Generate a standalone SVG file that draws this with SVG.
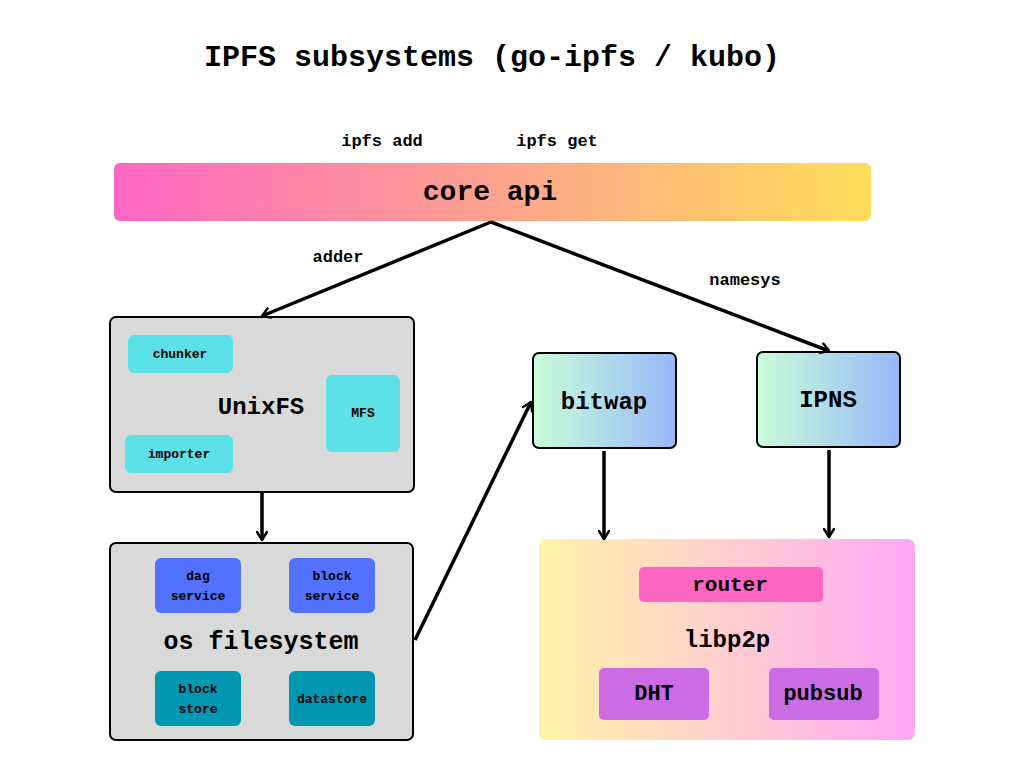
<svg xmlns="http://www.w3.org/2000/svg" width="1024" height="768" viewBox="0 0 1024 768">
<defs>
<linearGradient id="gCore" x1="0" y1="0" x2="1" y2="0"><stop offset="0" stop-color="#FF66C4"/><stop offset="1" stop-color="#FFDE59"/></linearGradient>
<linearGradient id="gBlue" x1="0" y1="0" x2="1" y2="0"><stop offset="0" stop-color="#C9FCD9"/><stop offset="1" stop-color="#97B9FA"/></linearGradient>
<linearGradient id="gLib" x1="0" y1="0" x2="1" y2="0"><stop offset="0" stop-color="#FFF4A8"/><stop offset="1" stop-color="#FFA8F7"/></linearGradient>
<marker id="arr" viewBox="0 0 12 12" refX="10" refY="6" markerWidth="12" markerHeight="12" markerUnits="userSpaceOnUse" orient="auto">
<path d="M2,1 L10,6 L2,11" fill="none" stroke="#000" stroke-width="2.4" stroke-linecap="round" stroke-linejoin="round"/>
</marker>
<style>
text{font-family:"Liberation Mono","DejaVu Sans Mono",monospace;font-weight:bold;fill:#000;text-anchor:middle;dominant-baseline:central}
.box{fill:#D9D9D9;stroke:#000;stroke-width:2}
.grad{fill:url(#gBlue);stroke:#000;stroke-width:2}
.cyan{fill:#5CE1E6}
.blue{fill:#5271FF}
.teal{fill:#0097B2}
.pink{fill:#FF66C4}
.purple{fill:#CB6CE6}
.s{font-size:13px}
.m{font-size:17px}
.l{font-size:24px}
.conn{fill:none;stroke:#000;stroke-width:3.5;marker-end:url(#arr)}
</style>
</defs>
<rect width="1024" height="768" fill="#fff"/>
<text x="492" y="58" style="font-size:30px">IPFS subsystems (go-ipfs / kubo)</text>
<text class="m" x="382" y="141">ipfs add</text>
<text class="m" x="557" y="141">ipfs get</text>
<g id="core-api">
<rect x="114" y="163" width="757" height="58" rx="6" fill="url(#gCore)"/>
<text x="490" y="192" style="font-size:28px">core api</text>
</g>
<g id="unixfs">
<rect class="box" x="110" y="317" width="304" height="175" rx="6"/>
<text class="l" x="261" y="407">UnixFS</text>
<rect class="cyan" x="128" y="335" width="105" height="38" rx="6"/>
<text class="s" x="180" y="354">chunker</text>
<rect class="cyan" x="125" y="435" width="108" height="38" rx="6"/>
<text class="s" x="179" y="454">importer</text>
<rect class="cyan" x="326" y="375" width="74" height="77" rx="6"/>
<text class="s" x="363" y="413">MFS</text>
</g>
<g id="os-filesystem">
<rect class="box" x="110" y="543" width="303" height="197" rx="6"/>
<text x="261" y="642" style="font-size:25px">os filesystem</text>
<rect class="blue" x="155" y="558" width="86" height="55" rx="6"/>
<text class="s" x="198" y="576">dag</text>
<text class="s" x="198" y="596">service</text>
<rect class="blue" x="289" y="558" width="86" height="55" rx="6"/>
<text class="s" x="332" y="576">block</text>
<text class="s" x="332" y="596">service</text>
<rect class="teal" x="155" y="671" width="86" height="55" rx="6"/>
<text class="s" x="198" y="689">block</text>
<text class="s" x="198" y="709">store</text>
<rect class="teal" x="289" y="671" width="86" height="55" rx="6"/>
<text class="s" x="332" y="699">datastore</text>
</g>
<g id="bitwap">
<rect class="grad" x="533" y="353" width="143" height="95" rx="6"/>
<text class="l" x="604" y="402">bitwap</text>
</g>
<g id="ipns">
<rect class="grad" x="757" y="352" width="143" height="95" rx="6"/>
<text class="l" x="828" y="400">IPNS</text>
</g>
<g id="libp2p">
<rect x="539" y="539" width="376" height="201" rx="7" fill="url(#gLib)"/>
<rect class="pink" x="639" y="567" width="184" height="35" rx="5"/>
<text x="730" y="585" style="font-size:21px">router</text>
<text x="727" y="640" style="font-size:24px">libp2p</text>
<rect class="purple" x="599" y="668" width="110" height="52" rx="5"/>
<text x="654" y="694" style="font-size:22px">DHT</text>
<rect class="purple" x="769" y="668" width="110" height="52" rx="5"/>
<text x="823" y="694" style="font-size:22px">pubsub</text>
</g>
<g id="connectors">
<path class="conn" d="M491,222 L262,316"/>
<path class="conn" d="M491,222 L829,351"/>
<path class="conn" d="M262,493 L262,540"/>
<path class="conn" d="M415,640 L531,402"/>
<path class="conn" d="M604,451 L604,539"/>
<path class="conn" d="M829,450 L829,537"/>
<text class="m" x="338" y="257">adder</text>
<text class="m" x="745" y="280">namesys</text>
</g>
</svg>
